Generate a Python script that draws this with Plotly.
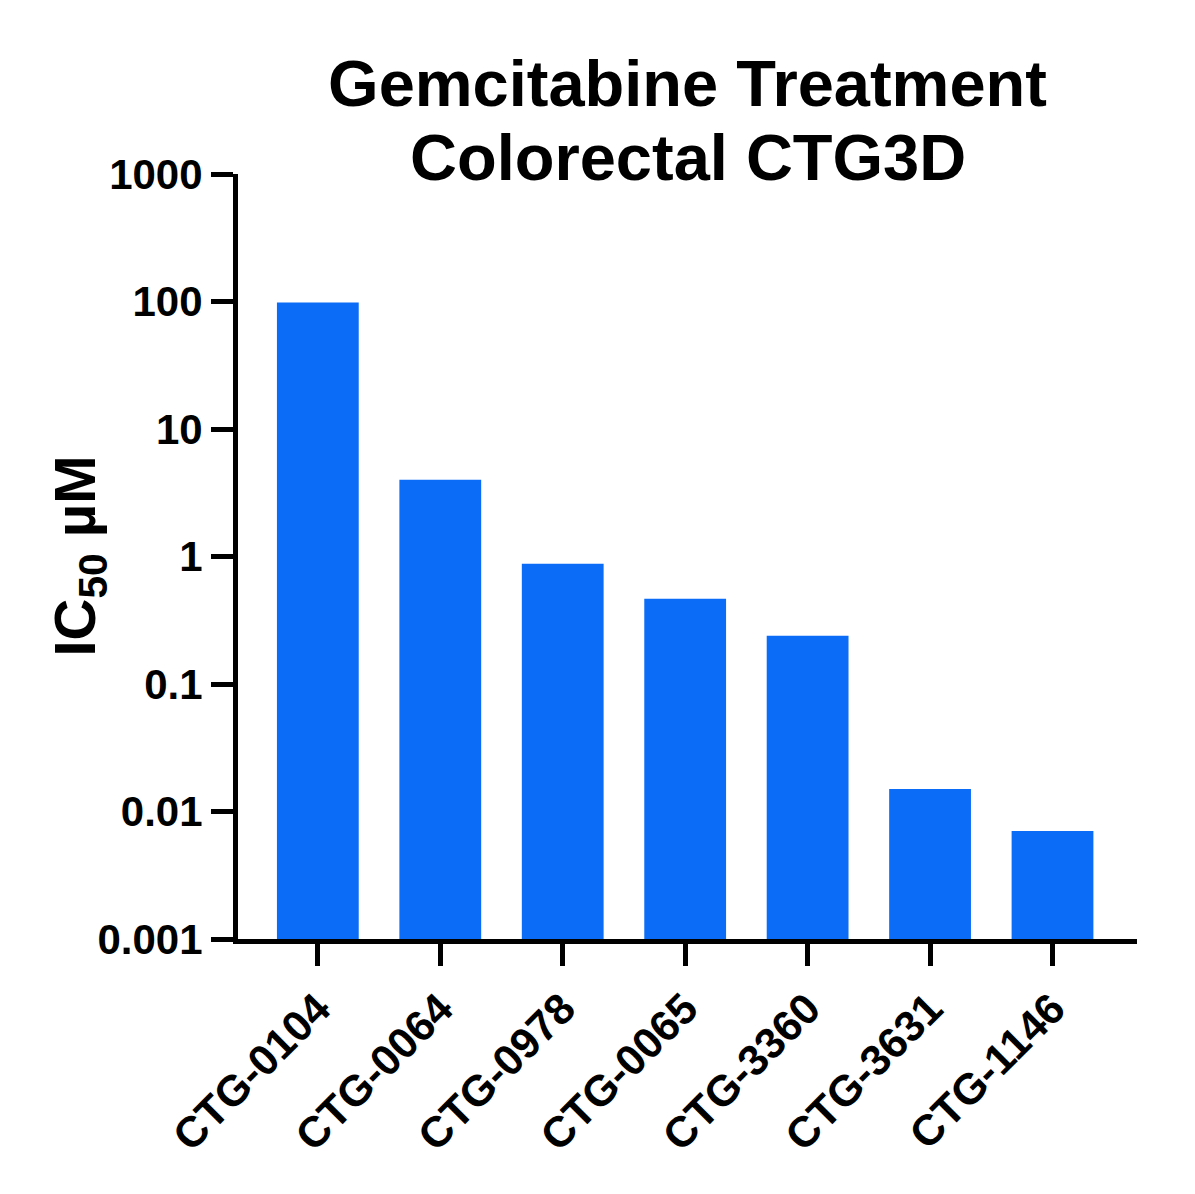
import plotly.graph_objects as go

categories = ["CTG-0104", "CTG-0064", "CTG-0978", "CTG-0065", "CTG-3360", "CTG-3631", "CTG-1146"]
ic50_values = [98.0, 4.0, 0.877, 0.466, 0.239, 0.0150, 0.00703]
y_tick_vals = [0.001, 0.01, 0.1, 1, 10, 100, 1000]
y_tick_text = ["0.001", "0.01", "0.1", "1", "10", "100", "1000"]
title_line1 = "Gemcitabine Treatment"
title_line2 = "Colorectal CTG3D"

FONT = "Liberation Sans, Arial, Helvetica, sans-serif"
BAR_COLOR = "#0A6CF7"

L, R, T, B = 230, 66, 166, 263
W, H = 1195, 1194
plot_w = W - L - R
plot_h = H - T - B


def paper_y(fig_y):
    return (H - B - fig_y) / plot_h


fig = go.Figure(
    go.Bar(
        x=categories,
        y=ic50_values,
        marker=dict(color=BAR_COLOR, line=dict(width=0)),
    )
)

fig.update_layout(
    width=W,
    height=H,
    autosize=False,
    margin=dict(l=L, r=R, t=T, b=B, pad=0),
    paper_bgcolor="white",
    plot_bgcolor="white",
    bargap=0.332,
    showlegend=False,
    font=dict(family=FONT, color="black", weight="bold"),
    title=dict(
        text=title_line1,
        x=0.5,
        xref="paper",
        xanchor="center",
        y=1 - 75 / H,
        yref="container",
        yanchor="middle",
        font=dict(family=FONT, size=65, color="black", weight="bold"),
    ),
    annotations=[
        dict(
            text=title_line2,
            xref="paper",
            yref="paper",
            x=0.5,
            y=paper_y(149),
            xanchor="center",
            yanchor="middle",
            showarrow=False,
            font=dict(family=FONT, size=65, color="black", weight="bold"),
        ),
        dict(
            text="IC<sub>50</sub> µM",
            textangle=-90,
            xref="paper",
            yref="paper",
            x=(70 - L) / plot_w,
            y=0.5,
            xanchor="center",
            yanchor="middle",
            showarrow=False,
            font=dict(family=FONT, size=58, color="black", weight="bold"),
        ),
    ],
)

fig.update_xaxes(
    type="category",
    range=[-0.652, 6.69],
    showline=True,
    linewidth=5,
    linecolor="black",
    ticks="outside",
    ticklen=22,
    tickwidth=5,
    tickcolor="black",
    tickangle=-45,
    tickfont=dict(family=FONT, size=43, color="black", weight="bold"),
    showgrid=False,
    zeroline=False,
)

fig.update_yaxes(
    type="log",
    range=[-3, 3],
    tickvals=y_tick_vals,
    ticktext=y_tick_text,
    showline=True,
    linewidth=5,
    linecolor="black",
    ticks="outside",
    ticklen=22,
    tickwidth=5,
    tickcolor="black",
    tickfont=dict(family=FONT, size=42, color="black", weight="bold"),
    showgrid=False,
    zeroline=False,
)

fig.write_html("out.html")
